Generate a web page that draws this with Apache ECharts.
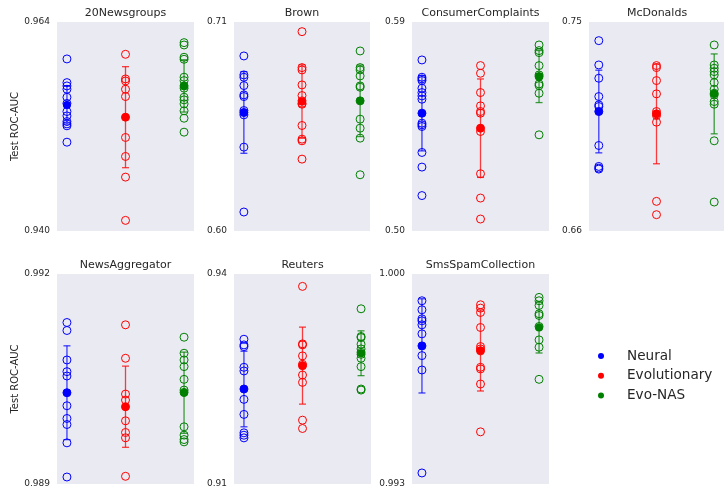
<!DOCTYPE html>
<html>
<head>
<meta charset="utf-8">
<script src="https://cdn.jsdelivr.net/npm/echarts@6/dist/echarts.min.js"></script>
<style>html,body{margin:0;padding:0;background:#fff;}#chart{width:724px;height:489px;}</style>
</head>
<body>
<div id="chart"></div>
<script>
// ---- data ----
const methods = ['Neural', 'Evolutionary', 'Evo-NAS'];
const panelTitles = ['20Newsgroups', 'Brown', 'ConsumerComplaints', 'McDonalds', 'NewsAggregator', 'Reuters', 'SmsSpamCollection'];
const tickLabels = [['0.940','0.964'], ['0.60','0.71'], ['0.50','0.59'], ['0.66','0.75'], ['0.989','0.992'], ['0.91','0.94'], ['0.993','1.000']];

const news20Neural = [0.95976, 0.95704, 0.95666, 0.95628, 0.95536, 0.95465, 0.95372, 0.95322, 0.95257, 0.95230, 0.95208, 0.95020];
const news20Evo    = [0.96029, 0.95746, 0.95723, 0.95628, 0.95544, 0.95307, 0.95074, 0.94856, 0.94619, 0.94122];
const news20EvoNAS = [0.96163, 0.96136, 0.95995, 0.95972, 0.95766, 0.95727, 0.95666, 0.95640, 0.95536, 0.95506, 0.95460, 0.95380, 0.95295, 0.95135];

const brownNeural = [0.69213, 0.68215, 0.68092, 0.67654, 0.67164, 0.67076, 0.66341, 0.66236, 0.66113, 0.64414, 0.61000];
const brownEvo    = [0.70492, 0.68600, 0.68478, 0.67689, 0.67129, 0.66849, 0.66726, 0.66674, 0.65553, 0.64834, 0.64747, 0.63783];
const brownEvoNAS = [0.69476, 0.68600, 0.68478, 0.68162, 0.67637, 0.67567, 0.66849, 0.65885, 0.65412, 0.64887, 0.62960];

const consumerNeural = [0.57366, 0.56621, 0.56549, 0.56478, 0.56148, 0.55962, 0.55818, 0.55675, 0.55073, 0.54643, 0.54572, 0.54500, 0.53382, 0.52752, 0.51526];
const consumerEvo    = [0.57123, 0.56793, 0.55962, 0.55389, 0.55145, 0.55073, 0.54428, 0.54285, 0.52465, 0.51419, 0.50516];
const consumerEvoNAS = [0.58011, 0.57768, 0.57682, 0.57123, 0.56721, 0.56650, 0.56334, 0.56263, 0.55933, 0.54142];

const mcdNeural = [0.74197, 0.73151, 0.72578, 0.71790, 0.71432, 0.71360, 0.71145, 0.69683, 0.68780, 0.68709, 0.68666];
const mcdEvo    = [0.73123, 0.73037, 0.72478, 0.71905, 0.71145, 0.71045, 0.70973, 0.70686, 0.67276, 0.66703];
const mcdEvoNAS = [0.74011, 0.73151, 0.73008, 0.72865, 0.72721, 0.72392, 0.72105, 0.71933, 0.71862, 0.71575, 0.71460, 0.69884, 0.67247];

const newsAggNeural = [0.991307, 0.991193, 0.990772, 0.990605, 0.990543, 0.990304, 0.990118, 0.989936, 0.989850, 0.989588, 0.989100];
const newsAggEvo    = [0.991274, 0.990796, 0.990285, 0.990199, 0.990104, 0.989903, 0.989736, 0.989660, 0.989110];
const newsAggEvoNAS = [0.991097, 0.990868, 0.990772, 0.990677, 0.990495, 0.990342, 0.990309, 0.989817, 0.989698, 0.989635, 0.989602];

const reutersNeural = [0.93068, 0.92987, 0.92963, 0.92667, 0.92615, 0.92357, 0.92209, 0.91994, 0.91731, 0.91697, 0.91659];
const reutersEvo    = [0.93823, 0.93002, 0.92987, 0.92830, 0.92710, 0.92691, 0.92557, 0.92452, 0.91912, 0.91793];
const reutersEvoNAS = [0.93503, 0.93107, 0.93092, 0.92997, 0.92930, 0.92882, 0.92853, 0.92796, 0.92677, 0.92357, 0.92342];

const smsNeural = [0.999108, 0.998807, 0.998506, 0.998440, 0.998306, 0.998005, 0.997604, 0.997280, 0.996801, 0.993368];
const smsEvo    = [0.998975, 0.998863, 0.998718, 0.998217, 0.997581, 0.997503, 0.997436, 0.996890, 0.996835, 0.996333, 0.994739];
const smsEvoNAS = [0.999220, 0.999108, 0.998952, 0.998674, 0.998618, 0.998250, 0.997804, 0.997559, 0.996489];

// mean and error (std) per panel, order: Neural, Evolutionary, Evo-NAS
const meanValues = [
  [0.95448, 0.95307, 0.95666],
  [0.6624, 0.66814, 0.66849],
  [0.5507, 0.54428, 0.5665],
  [0.71145, 0.71045, 0.71905],
  [0.990304, 0.990104, 0.990304],
  [0.92357, 0.92691, 0.92868],
  [0.997604, 0.99745, 0.998217]
];
const errValues = [
  [0.0022, 0.0058, 0.0030],
  [0.0215, 0.0193, 0.0188],
  [0.0162, 0.0212, 0.0112],
  [0.0178, 0.0215, 0.0172],
  [0.00067, 0.00058, 0.00058],
  [0.0054, 0.0055, 0.0032],
  [0.00157, 0.00135, 0.00085]
];

const runValues = [
  [news20Neural, news20Evo, news20EvoNAS],
  [brownNeural, brownEvo, brownEvoNAS],
  [consumerNeural, consumerEvo, consumerEvoNAS],
  [mcdNeural, mcdEvo, mcdEvoNAS],
  [newsAggNeural, newsAggEvo, newsAggEvoNAS],
  [reutersNeural, reutersEvo, reutersEvoNAS],
  [smsNeural, smsEvo, smsEvoNAS]
];

// ---- layout / style ----
const colors = ['#0000ff', '#ff0000', '#008000'];
const textColor = '#262626';
const gridBoxes = [
  {left: 57, top: 22, width: 137, height: 209},
  {left: 234, top: 22, width: 136, height: 209},
  {left: 412, top: 22, width: 137, height: 209},
  {left: 589, top: 22, width: 136, height: 209},
  {left: 57, top: 274, width: 137, height: 210},
  {left: 234, top: 274, width: 137, height: 210},
  {left: 412, top: 274, width: 137, height: 210}
];

const grid = [], xAxis = [], yAxis = [], series = [], title = [];

gridBoxes.forEach((g, i) => {
  grid.push(Object.assign({show: true, backgroundColor: '#EAEAF2', borderWidth: 0, containLabel: false}, g));
  title.push({
    text: panelTitles[i],
    left: g.left + g.width / 2,
    top: g.top - 14,
    padding: 0,
    textAlign: 'center',
    textStyle: {fontFamily: 'DejaVu Sans', fontSize: 11, fontWeight: 'normal', color: textColor}
  });
  xAxis.push({
    type: 'value', gridIndex: i, min: -0.17, max: 2.17, show: false
  });
  const lo = parseFloat(tickLabels[i][0]);
  const hi = parseFloat(tickLabels[i][1]);
  yAxis.push({
    type: 'value', gridIndex: i, min: lo, max: hi,
    name: (i === 0 || i === 4) ? 'Test ROC-AUC' : '',
    nameLocation: 'middle', nameGap: 37,
    nameTextStyle: {fontFamily: 'DejaVu Sans', fontSize: 10, color: textColor},
    axisLine: {show: false}, axisTick: {show: false}, splitLine: {show: false},
    axisLabel: {
      customValues: [lo, hi],
      margin: 7,
      fontFamily: 'DejaVu Sans', fontSize: 9, color: textColor,
      formatter: (v) => (Math.abs(v - lo) < Math.abs(v - hi) ? tickLabels[i][0] : tickLabels[i][1])
    }
  });
  for (let m = 0; m < 3; m++) {
    const c = colors[m];
    series.push({
      type: 'scatter', xAxisIndex: i, yAxisIndex: i,
      symbol: 'circle', symbolSize: 8,
      itemStyle: {color: 'rgba(0,0,0,0)', borderColor: c, borderWidth: 1, opacity: 1},
      data: runValues[i][m].map(v => [m, v]),
      silent: true, z: 2
    });
    series.push({
      type: 'custom', xAxisIndex: i, yAxisIndex: i,
      data: [[m, meanValues[i][m], errValues[i][m]]],
      silent: true, z: 3,
      renderItem: (params, api) => {
        const x = api.value(0), mu = api.value(1), e = api.value(2);
        const t = api.coord([x, mu + e]);
        const b = api.coord([x, mu - e]);
        const cw = 3.5;
        const st = {stroke: c, lineWidth: 1.3, opacity: 0.75};
        return {type: 'group', children: [
          {type: 'line', shape: {x1: t[0], y1: t[1], x2: b[0], y2: b[1]}, style: st},
          {type: 'line', shape: {x1: t[0] - cw, y1: t[1], x2: t[0] + cw, y2: t[1]}, style: st},
          {type: 'line', shape: {x1: b[0] - cw, y1: b[1], x2: b[0] + cw, y2: b[1]}, style: st}
        ]};
      }
    });
    series.push({
      type: 'scatter', xAxisIndex: i, yAxisIndex: i,
      name: methods[m],
      symbol: 'circle', symbolSize: 8,
      itemStyle: {color: c, borderWidth: 0, opacity: 1},
      data: [[m, meanValues[i][m]]],
      silent: true, z: 4
    });
  }
});

const chart = echarts.init(document.getElementById('chart'), null, {renderer: 'canvas'});
chart.setOption({
  animation: false,
  backgroundColor: '#ffffff',
  title: title,
  grid: grid,
  xAxis: xAxis,
  yAxis: yAxis,
  legend: {
    orient: 'vertical', left: 598, top: 349, padding: 0,
    itemWidth: 6, itemHeight: 6, itemGap: 5.7, icon: 'circle',
    selectedMode: false,
    data: methods.map((n, k) => ({name: n, itemStyle: {color: colors[k], borderWidth: 0, opacity: 1}})),
    textStyle: {fontFamily: 'DejaVu Sans', fontSize: 13.6, color: textColor, padding: [0, 0, 0, 18]}
  },
  series: series
});
</script>
</body>
</html>
